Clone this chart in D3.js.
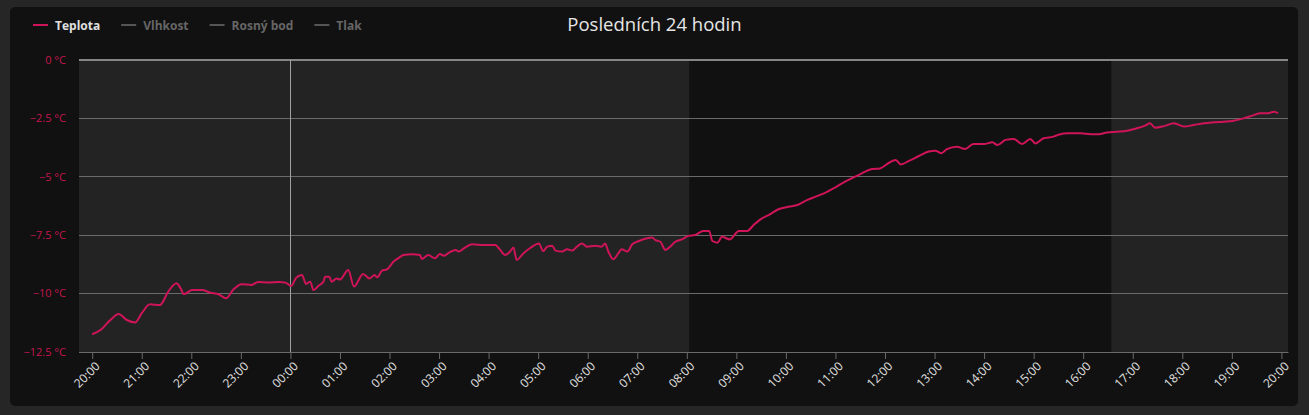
<!DOCTYPE html>
<html>
<head>
<meta charset="utf-8">
<script src="https://cdn.jsdelivr.net/npm/d3@7"></script>
<style>
  body { margin: 0; background: #262626; }
  svg { display: block; }
</style>
</head>
<body>
<script>

// data: minutes since 20:00 and temperature (°C)
var startTime = new Date(2021, 0, 14, 20, 0);
var minutes = [0, 10, 22, 32, 42, 52, 60, 70, 82, 92, 102, 107, 111, 121, 133, 143, 153, 162, 171, 181,
  193, 201, 214, 226, 234, 241, 247, 254, 259, 264, 268, 274, 280, 282, 287, 290, 296, 300, 310, 317,
  328, 336, 342, 345, 351, 357, 365, 372, 377, 387, 397, 399, 407, 415, 421, 426, 432, 440, 444, 450,
  460, 474, 488, 494, 500, 506, 510, 514, 522, 530, 541, 546, 551, 557, 561, 569, 575, 581, 587, 593,
  599, 609, 617, 621, 625, 631, 637, 641, 648, 654, 662, 672, 678, 682, 688, 694, 700, 706, 714, 722,
  730, 740, 747, 751, 757, 763, 767, 772, 783, 793, 801, 811, 819, 831, 843, 854, 866, 876, 888, 898,
  908, 920, 932, 944, 954, 964, 973, 979, 989, 1001, 1013, 1021, 1028, 1035, 1047, 1057, 1067, 1080, 1090, 1096,
  1106, 1116, 1126, 1136, 1142, 1152, 1164, 1170, 1182, 1197, 1209, 1219, 1229, 1241, 1253, 1265, 1275, 1281, 1287, 1298,
  1310, 1322, 1334, 1346, 1358, 1370, 1382, 1394, 1405, 1415, 1424, 1431, 1436];
var teplota = [-11.74, -11.56, -11.13, -10.87, -11.13, -11.24, -10.84, -10.46, -10.49, -9.92, -9.56, -9.77, -10.02, -9.85, -9.85, -9.96, -10.03, -10.2, -9.82, -9.6,
  -9.63, -9.5, -9.53, -9.5, -9.53, -9.67, -9.32, -9.2, -9.59, -9.49, -9.85, -9.66, -9.49, -9.28, -9.28, -9.49, -9.35, -9.4, -8.99, -9.7,
  -9.16, -9.35, -9.2, -9.3, -9.02, -8.96, -8.63, -8.45, -8.35, -8.32, -8.35, -8.52, -8.35, -8.49, -8.3, -8.38, -8.25, -8.13, -8.2, -8.06,
  -7.89, -7.92, -7.92, -8.13, -8.35, -8.2, -8.03, -8.56, -8.28, -8.06, -7.85, -8.18, -7.99, -7.95, -8.16, -8.2, -8.1, -8.16, -7.99, -7.85,
  -7.99, -7.95, -7.99, -7.85, -8.2, -8.53, -8.28, -8.1, -8.2, -7.89, -7.75, -7.63, -7.6, -7.71, -7.78, -8.13, -7.99, -7.78, -7.68, -7.53,
  -7.49, -7.32, -7.32, -7.75, -7.82, -7.56, -7.62, -7.68, -7.32, -7.32, -7.06, -6.78, -6.64, -6.39, -6.28, -6.21, -5.99, -5.85, -5.68, -5.49,
  -5.28, -5.06, -4.85, -4.67, -4.64, -4.42, -4.28, -4.47, -4.32, -4.11, -3.92, -3.88, -3.99, -3.82, -3.71, -3.81, -3.6, -3.6, -3.52, -3.64,
  -3.42, -3.38, -3.6, -3.38, -3.57, -3.35, -3.28, -3.2, -3.14, -3.14, -3.18, -3.18, -3.1, -3.07, -3.03, -2.92, -2.81, -2.71, -2.9, -2.83,
  -2.71, -2.85, -2.78, -2.71, -2.67, -2.64, -2.6, -2.5, -2.38, -2.28, -2.28, -2.21, -2.28];

var yTicks = [0, -2.5, -5, -7.5, -10, -12.5];
var yTickLabels = ["0 °C", "−2.5 °C", "−5 °C", "−7.5 °C", "−10 °C", "−12.5 °C"];
var legendNames = ["Teplota", "Vlhkost", "Rosný bod", "Tlak"];
var legendVisible = [true, false, false, false];
// sunrise / sunset in minutes since 20:00 (light band between)
var daylight = [723, 1234];
var midnight = 240;

var title = "Posledních 24 hodin";

window.onload = function() {
  var width = 1309, height = 415;
  var margin = {top: 60, right: 21, bottom: 63, left: 79};
  var lineColor = "#d0145a";

  var data = minutes.map(function(m, i) {
    return {time: d3.timeMinute.offset(startTime, m), value: teplota[i]};
  });

  var svg = d3.select("body").append("svg")
      .attr("width", width)
      .attr("height", height);

  // dark panel
  svg.append("rect")
      .attr("x", 10).attr("y", 7)
      .attr("width", 1288).attr("height", 399)
      .attr("rx", 5)
      .style("fill", "#111111");

  var xScale = d3.scaleTime()
      .domain([d3.timeMinute.offset(startTime, -16), d3.timeMinute.offset(startTime, 1448)])
      .range([margin.left, width - margin.right]);

  var yScale = d3.scaleLinear()
      .domain([-12.5, 0])
      .range([height - margin.bottom, margin.top]);

  // night bands
  var bands = [
    [xScale.domain()[0], d3.timeMinute.offset(startTime, daylight[0])],
    [d3.timeMinute.offset(startTime, daylight[1]), xScale.domain()[1]]
  ];
  svg.selectAll(".band")
      .data(bands)
      .enter().append("rect")
      .attr("class", "band")
      .attr("x", function(d) { return xScale(d[0]); })
      .attr("width", function(d) { return xScale(d[1]) - xScale(d[0]); })
      .attr("y", yScale(0))
      .attr("height", yScale(-12.5) - yScale(0))
      .style("fill", "#232323");

  // grid lines
  svg.selectAll(".grid")
      .data(yTicks)
      .enter().append("line")
      .attr("class", "grid")
      .attr("x1", margin.left)
      .attr("x2", width - margin.right)
      .attr("y1", function(d) { return yScale(d); })
      .attr("y2", function(d) { return yScale(d); })
      .style("stroke", function(d) { return d == 0 ? "#858585" : "#6a6a6a"; })
      .style("stroke-width", function(d) { return d == 0 ? 1.6 : 1; })
      .attr("shape-rendering", "crispEdges");

  // midnight line
  svg.append("line")
      .attr("x1", xScale(d3.timeMinute.offset(startTime, midnight)))
      .attr("x2", xScale(d3.timeMinute.offset(startTime, midnight)))
      .attr("y1", yScale(0))
      .attr("y2", yScale(-12.5))
      .style("stroke", "#a0a0a0")
      .style("stroke-width", 1)
      .attr("shape-rendering", "crispEdges");

  // y labels
  svg.selectAll(".ylab")
      .data(yTicks)
      .enter().append("text")
      .attr("class", "ylab")
      .attr("x", 66)
      .attr("y", function(d) { return yScale(d); })
      .attr("dy", "0.35em")
      .attr("text-anchor", "end")
      .style("font-family", "'Open Sans', sans-serif")
      .style("font-size", "11px")
      .style("fill", "#c4164e")
      .text(function(d, i) { return yTickLabels[i]; });

  // x axis
  var xAxis = svg.append("g")
      .attr("transform", "translate(0," + yScale(-12.5) + ")")
      .call(d3.axisBottom(xScale)
        .ticks(d3.timeHour.every(1))
        .tickFormat(d3.timeFormat("%H:%M"))
        .tickSize(7)
        .tickSizeOuter(0));

  xAxis.select(".domain").style("stroke", "#6a6a6a");
  xAxis.selectAll(".tick line").style("stroke", "#6a6a6a");
  xAxis.selectAll(".tick text")
      .attr("transform", "translate(5,12) rotate(-45)")
      .attr("x", 0).attr("y", 0).attr("dy", "0.35em")
      .attr("text-anchor", "end")
      .style("font-family", "'Open Sans', sans-serif")
      .style("font-size", "12px")
      .style("fill", "#e0e0e0");

  // temperature line
  var line = d3.line()
      .x(function(d) { return xScale(d.time); })
      .y(function(d) { return yScale(d.value); })
      .curve(d3.curveMonotoneX);

  svg.append("path")
      .datum(data)
      .attr("d", line)
      .style("fill", "none")
      .style("stroke", lineColor)
      .style("stroke-width", 2)
      .style("stroke-linejoin", "round");

  // title
  svg.append("text")
      .attr("x", width / 2)
      .attr("y", 31)
      .attr("text-anchor", "middle")
      .style("font-family", "'Open Sans', sans-serif")
      .style("font-size", "18.5px")
      .style("fill", "#e6e6e6")
      .text(title);

  // legend
  var lx = 33;
  legendNames.forEach(function(name, i) {
    var col = legendVisible[i] ? lineColor : "#555555";
    svg.append("line")
        .attr("x1", lx).attr("x2", lx + 15)
        .attr("y1", 25).attr("y2", 25)
        .style("stroke", col)
        .style("stroke-width", 2);
    var t = svg.append("text")
        .attr("x", lx + 22)
        .attr("y", 29.5)
        .style("font-family", "'Open Sans', sans-serif")
        .style("font-size", "12px")
        .style("font-weight", "bold")
        .style("fill", legendVisible[i] ? "#e0e0e0" : "#666666")
        .text(name);
    lx = lx + 22 + t.node().getComputedTextLength() + 21;
  });
};
</script>
</body>
</html>
